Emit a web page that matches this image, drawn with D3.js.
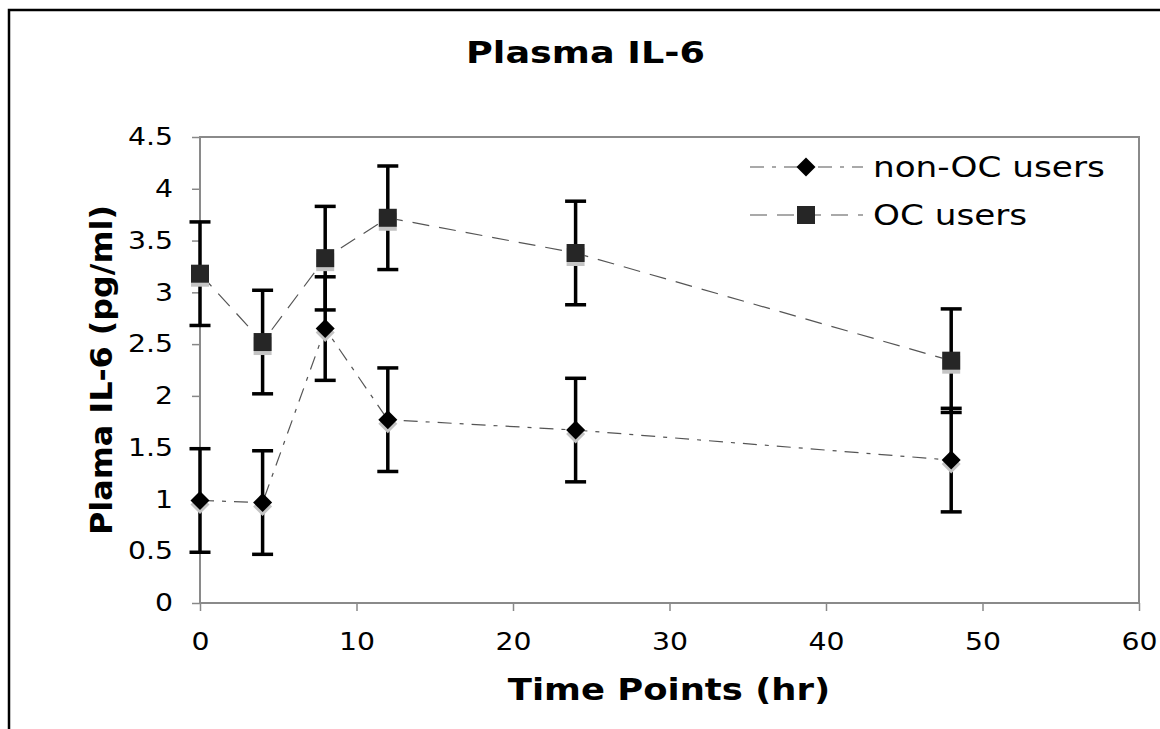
<!DOCTYPE html>
<html><head><meta charset="utf-8">
<script src="https://cdn.jsdelivr.net/npm/d3@7"></script>
<style>html,body{margin:0;padding:0;background:#fff;}svg{display:block;}</style>
</head><body>
<script>
const timePoints = [0, 4, 8, 12, 24, 48];
const nonOC = [0.99, 0.97, 2.65, 1.77, 1.67, 1.38];
const nonOCErr = [0.5, 0.5, 0.5, 0.5, 0.5, 0.5];
const OC = [3.18, 2.52, 3.33, 3.72, 3.38, 2.34];
const OCErr = [0.5, 0.5, 0.5, 0.5, 0.5, 0.5];
const xTicks = [0, 10, 20, 30, 40, 50, 60];
const yTicks = [0, 0.5, 1, 1.5, 2, 2.5, 3, 3.5, 4, 4.5];
const seriesNames = ["non-OC users", "OC users"];

const W = 1160, H = 729;
const svg = d3.select("body").append("svg").attr("width", W).attr("height", H);
const font = "DejaVu Sans, Verdana, sans-serif";
const STRETCH = 1.18;

// outer chart border (cropped at right/bottom)
svg.append("rect").attr("x", 9).attr("y", 10).attr("width", W + 20).attr("height", H + 20)
  .attr("fill", "none").attr("stroke", "#000").attr("stroke-width", 2.5);

const L = 200, R = 1139, T = 137, B = 603;
const x = d3.scaleLinear().domain([0, 60]).range([L, R]);
const y = d3.scaleLinear().domain([0, 4.5]).range([B, T]);

// axes
const yAxis = d3.axisLeft(y).tickValues(yTicks).tickSize(8).tickSizeOuter(0).tickPadding(19).tickFormat(d3.format("~g"));
const gy = svg.append("g").attr("transform", `translate(${L},0)`).call(yAxis);
const xAxis = d3.axisBottom(x).tickValues(xTicks).tickSize(8).tickSizeOuter(0).tickPadding(22).tickFormat(d3.format("d"));
const gx = svg.append("g").attr("transform", `translate(0,${B})`).call(xAxis);
[gx, gy].forEach(g => {
  g.select(".domain").remove();
  g.selectAll(".tick line").attr("stroke", "#888").attr("stroke-width", 1.5);
  g.selectAll(".tick text").attr("font-family", font).attr("font-size", 24).attr("fill", "#000");
});

// plot frame
svg.append("rect").attr("x", L).attr("y", T).attr("width", R - L).attr("height", B - T)
  .attr("fill", "none").attr("stroke", "#8a8a8a").attr("stroke-width", 2);

// titles
svg.append("text").attr("class", "st").attr("x", 585.5).attr("y", 63).attr("text-anchor", "middle")
  .attr("font-family", font).attr("font-weight", "bold").attr("font-size", 31).text("Plasma IL-6");
svg.append("text").attr("class", "st").attr("x", 669).attr("y", 700).attr("text-anchor", "middle")
  .attr("font-family", font).attr("font-weight", "bold").attr("font-size", 30).text("Time Points (hr)");
svg.append("text").attr("transform", `translate(112,370) rotate(-90)`).attr("text-anchor", "middle")
  .attr("font-family", font).attr("font-weight", "bold").attr("font-size", 30)
  .attr("textLength", 330).attr("lengthAdjust", "spacingAndGlyphs").text("Plama IL-6 (pg/ml)");

const series = [
  {name: seriesNames[0], vals: nonOC, err: nonOCErr, marker: "diamond", dash: "14,8,4,8", color: "#000"},
  {name: seriesNames[1], vals: OC, err: OCErr, marker: "square", dash: "17,10", color: "#262626"}
];

const line = d3.line().x(d => x(d.t)).y(d => y(d.v));

function markerPath(type) {
  if (type === "diamond") return "M0,-9.5L9.5,0L0,9.5L-9.5,0Z";
  return "M-9,-9H9V9H-9Z";
}

series.forEach(s => {
  const pts = timePoints.map((t, i) => ({t, v: s.vals[i], e: s.err[i]}));
  svg.append("path").datum(pts).attr("d", line).attr("fill", "none")
    .attr("stroke", "#555").attr("stroke-width", 1.2).attr("stroke-dasharray", s.dash);
});

series.forEach(s => {
  const pts = timePoints.map((t, i) => ({t, v: s.vals[i], e: s.err[i]}));
  const g = svg.append("g");
  pts.forEach(p => {
    g.append("line").attr("x1", x(p.t)).attr("x2", x(p.t)).attr("y1", y(p.v + p.e)).attr("y2", y(p.v - p.e))
      .attr("stroke", "#000").attr("stroke-width", 3.5);
    [p.v + p.e, p.v - p.e].forEach(v => {
      g.append("line").attr("x1", x(p.t) - 10.5).attr("x2", x(p.t) + 10.5).attr("y1", y(v)).attr("y2", y(v))
        .attr("stroke", "#000").attr("stroke-width", 3.5);
    });
  });
  g.selectAll(".shadow").data(pts).enter().append("path")
    .attr("d", markerPath(s.marker)).attr("fill", "#c4c4c4")
    .attr("transform", d => `translate(${x(d.t)},${y(d.v) + 4})`);
  g.selectAll(".mk").data(pts).enter().append("path")
    .attr("d", markerPath(s.marker)).attr("fill", s.color)
    .attr("transform", d => `translate(${x(d.t)},${y(d.v)})`);
});

// legend
const legY = [167, 215];
const legBase = [177, 225];
series.forEach((s, i) => {
  const g = svg.append("g");
  g.append("line").attr("x1", 750).attr("x2", 863).attr("y1", legY[i]).attr("y2", legY[i])
    .attr("stroke", "#555").attr("stroke-width", 1.2).attr("stroke-dasharray", s.dash);
  g.append("path").attr("d", markerPath(s.marker)).attr("fill", s.color)
    .attr("transform", `translate(806,${legY[i]})`);
  g.append("text").attr("class", "st").attr("x", 873).attr("y", legBase[i]).attr("font-family", font).attr("font-size", 29)
    .attr("fill", "#000").text(s.name);
});

// horizontal stretch to match reference glyph widths
svg.selectAll("text.st, .tick text").each(function() {
  const len = this.getComputedTextLength();
  d3.select(this).attr("textLength", len * STRETCH).attr("lengthAdjust", "spacingAndGlyphs");
});
</script>
</body></html>
